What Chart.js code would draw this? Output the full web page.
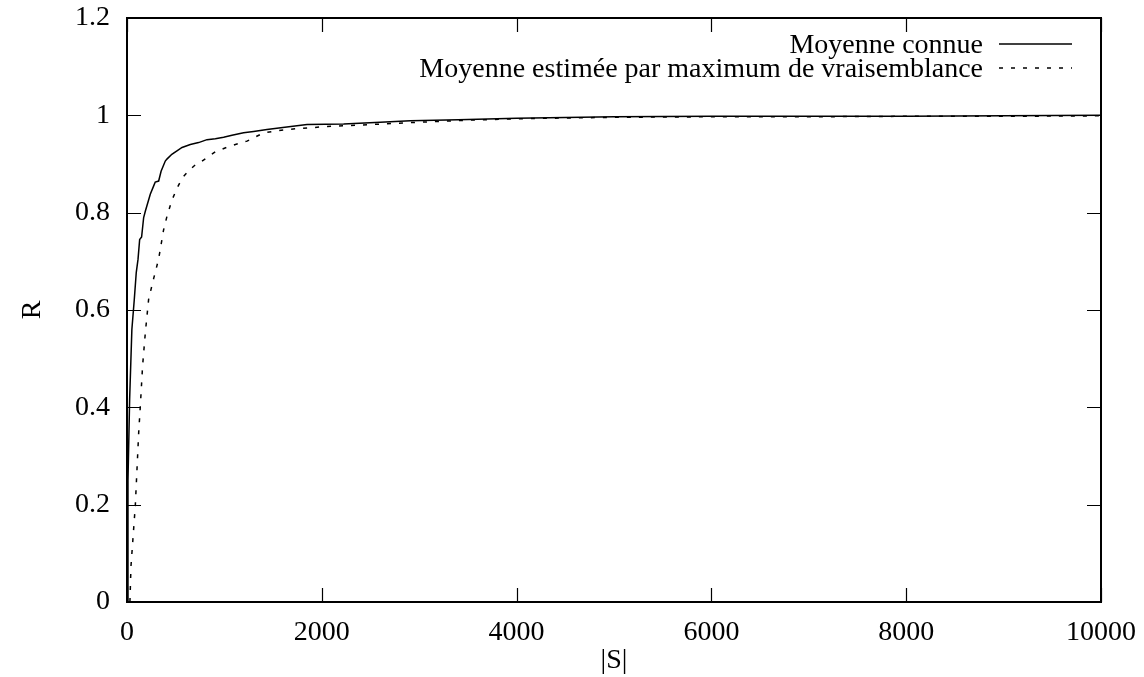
<!DOCTYPE html>
<html>
<head>
<meta charset="utf-8">
<script src="https://cdn.jsdelivr.net/npm/chart.js@4/dist/chart.umd.min.js"></script>
<style>
  html, body { margin: 0; padding: 0; background: #fff; }
  #wrap { width: 1144px; height: 677px; }
</style>
</head>
<body>
<div id="wrap"><canvas id="myChart"></canvas></div>
<script>
// series labels
const labels = ['Moyenne connue', 'Moyenne estimée par maximum de vraisemblance'];

// |S| values and R for the known mean
const connueX = [0, 10, 27, 50, 75, 95, 113, 130, 150, 171, 188, 239, 274, 290, 325, 350, 393, 410, 460, 513,
  565, 650, 735, 821, 907, 992, 1078, 1197, 1300, 1437, 1600, 1848, 2224, 2600, 2909, 3400, 4000, 5000,
  6000, 7000, 8000, 9000, 10000];
const connueY = [0, 0.25, 0.416, 0.56, 0.622, 0.677, 0.704, 0.745, 0.75, 0.79, 0.803, 0.838, 0.855, 0.863, 0.865,
  0.885, 0.906, 0.910, 0.92, 0.927, 0.934, 0.940, 0.944, 0.950, 0.952, 0.955, 0.959, 0.964, 0.967, 0.971,
  0.975, 0.981, 0.982, 0.986, 0.989, 0.991, 0.994, 0.997, 0.998, 0.998, 0.998, 0.999, 1.0];

// |S| values and R for the ML-estimated mean
const estimX = [30, 41, 85, 120, 137, 160, 188, 222, 274, 325, 376, 411, 460, 513, 570, 633, 700, 770, 907, 1061,
  1232, 1403, 1643, 2053, 2500, 2909, 3500, 4000, 5000, 6000, 7000, 8000, 9000, 10000];
const estimY = [0, 0.074, 0.197, 0.348, 0.403, 0.485, 0.553, 0.622, 0.665, 0.705, 0.765, 0.793, 0.825, 0.850,
  0.872, 0.886, 0.898, 0.906, 0.925, 0.937, 0.947, 0.964, 0.971, 0.977, 0.981, 0.985, 0.99, 0.993, 0.996,
  0.997, 0.997, 0.998, 0.998, 0.999];

// axis ticks
const xTicks = [0, 2000, 4000, 6000, 8000, 10000];
const yTicks = [0, 0.2, 0.4, 0.6, 0.8, 1, 1.2];

const FONT = '"Liberation Serif", "DejaVu Serif", serif';
const FS = 28;

// gnuplot-like frame: box border, inward ticks on all four sides, legend top-right
const gnuplotFrame = {
  id: 'gnuplotFrame',
  afterDraw(chart) {
    const c = chart.ctx, a = chart.chartArea;
    const xs = chart.scales.x, ys = chart.scales.y;
    const L = 14;
    c.save();
    c.strokeStyle = '#000';
    c.lineWidth = 1.2;
    c.beginPath();
    yTicks.forEach(v => {
      const p = Math.round(ys.getPixelForValue(v)) + 0.5;
      c.moveTo(a.left, p); c.lineTo(a.left + L, p);
      c.moveTo(a.right, p); c.lineTo(a.right - L, p);
    });
    xTicks.forEach(v => {
      const p = Math.round(xs.getPixelForValue(v)) + 0.5;
      c.moveTo(p, a.bottom); c.lineTo(p, a.bottom - L);
      c.moveTo(p, a.top); c.lineTo(p, a.top + L);
    });
    c.stroke();
    c.lineWidth = 2;
    c.strokeRect(a.left, a.top, a.right - a.left, a.bottom - a.top);

    // legend
    c.font = FS + 'px ' + FONT;
    c.fillStyle = '#000';
    c.textAlign = 'right';
    c.textBaseline = 'middle';
    chart.data.datasets.forEach((ds, i) => {
      const y = 44 + i * 24;
      c.fillText(ds.label, 983, y + 2);
      c.beginPath();
      c.lineWidth = 1.5;
      c.setLineDash(ds.borderDash || []);
      c.moveTo(999, y); c.lineTo(1072, y);
      c.stroke();
    });
    c.restore();
  }
};

const ctx = document.getElementById('myChart');

new Chart(ctx, {
  type: 'scatter',
  data: {
    datasets: [{
      label: labels[0],
      data: connueX.map((x, i) => ({x: x, y: connueY[i]})),
      showLine: true,
      borderColor: '#000',
      borderWidth: 1.5,
      pointRadius: 0,
      tension: 0
    }, {
      label: labels[1],
      data: estimX.map((x, i) => ({x: x, y: estimY[i]})),
      showLine: true,
      borderColor: '#000',
      borderWidth: 1.5,
      borderDash: [4, 8],
      pointRadius: 0,
      tension: 0
    }]
  },
  options: {
    responsive: true,
    maintainAspectRatio: false,
    animation: false,
    layout: { autoPadding: false, padding: { top: 18, right: 43, left: 0, bottom: 0 } },
    plugins: { legend: { display: false }, tooltip: { enabled: false } },
    scales: {
      x: {
        type: 'linear',
        min: 0, max: 10000,
        afterFit(s) { s.height = 75; s.paddingLeft = 0; s.paddingRight = 0; },
        afterBuildTicks(s) { s.ticks = xTicks.map(v => ({value: v})); },
        grid: { display: false },
        border: { display: false },
        ticks: {
          color: '#000', padding: 6, maxRotation: 0, autoSkip: false,
          font: { family: FONT, size: FS },
          callback: v => String(v)
        },
        title: { display: true, text: '|S|', color: '#000', font: { family: FONT, size: FS }, padding: { top: 0, bottom: 0 } }
      },
      y: {
        type: 'linear',
        min: 0, max: 1.2,
        afterFit(s) { s.width = 127; s.paddingTop = 0; s.paddingBottom = 0; },
        afterBuildTicks(s) { s.ticks = yTicks.map(v => ({value: v})); },
        grid: { display: false },
        border: { display: false },
        ticks: {
          color: '#000', padding: 9, autoSkip: false,
          font: { family: FONT, size: FS },
          callback: v => String(v)
        },
        title: { display: true, text: 'R', color: '#000', font: { family: FONT, size: FS }, padding: { top: 16, bottom: 0 } }
      }
    }
  },
  plugins: [gnuplotFrame]
});
</script>
</body>
</html>
